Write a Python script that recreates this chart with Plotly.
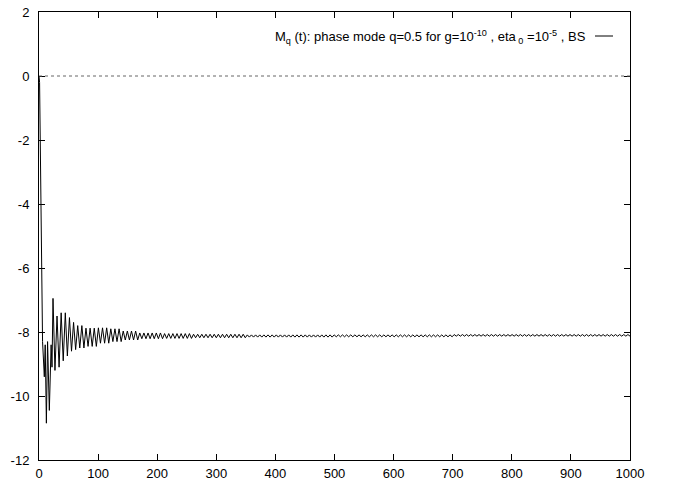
import numpy as np
import plotly.graph_objects as go

# ---- data ----
# early, irregular extrema (time, value)
early_t = [0, 1, 6, 9, 10.5, 12.5, 14.5, 17.5, 20.5, 22, 23.7, 27, 30.5, 34,
           37.5, 41, 44.5, 48, 51.5, 55, 58.5, 62]
early_v = [0.0, -0.2, -8.3, -9.4, -8.4, -10.85, -8.3, -10.45, -8.4, -9.1, -6.95,
           -9.2, -7.5, -9.1, -7.4, -8.9, -7.4, -8.75, -7.55, -8.6, -7.7, -8.55]

# later oscillation, sampled every half period (peak, trough pairs)
late_t0 = 65.5
late_step = 3.5
late_v = ([-7.80, -8.50] * 2 + [-7.88, -8.45] * 3 + [-7.87, -8.35] * 3 +
          [-7.90, -8.30] * 3 + [-7.97, -8.25] * 4 + [-8.03, -8.21] * 6 +
          [-8.05, -8.20] * 7 + [-8.07, -8.18] * 13 + [-8.09, -8.16] * 21 +
          [-8.09, -8.15] * 29 + [-8.08, -8.13] * 43)

x_ticks = [0, 100, 200, 300, 400, 500, 600, 700, 800, 900, 1000]
y_ticks = [-12, -10, -8, -6, -4, -2, 0, 2]
y_tick_labels = ["-12", "-10", "-8", "-6", "-4", "-2", "0", "2"]

legend_text = ("M<sub>q</sub> (t): phase mode q=0.5 for g=10<sup>-10</sup> , "
               "eta<sub> 0</sub> =10<sup>-5</sup> , BS")

late_t = late_t0 + late_step * np.arange(len(late_v))
t = list(early_t) + list(late_t)
v = list(early_v) + list(late_v)

fig = go.Figure()
fig.add_trace(go.Scatter(x=t, y=v, mode="lines",
                         line=dict(color="black", width=1), showlegend=False))

font = dict(family="Liberation Sans, Arial, sans-serif", size=13, color="black")
axis_common = dict(showgrid=False, zeroline=False, showline=True, linecolor="black",
                   linewidth=1, mirror="allticks", ticks="inside", ticklen=6,
                   tickcolor="black", tickfont=font, automargin=False)

fig.update_layout(
    width=673, height=483,
    margin=dict(l=39, r=43, t=12, b=23, pad=0),
    plot_bgcolor="white", paper_bgcolor="white",
    xaxis=dict(range=[0, 1000], tickvals=x_ticks, ticklabelstandoff=1, **axis_common),
    yaxis=dict(range=[-12, 2], tickvals=y_ticks, ticktext=y_tick_labels,
               ticklabelstandoff=6, **axis_common),
    shapes=[
        dict(type="line", xref="paper", yref="y", x0=0, x1=1, y0=0, y1=0,
             line=dict(color="#666666", width=1, dash="dot")),
        dict(type="line", xref="paper", yref="paper", x0=(595 - 39) / 591, x1=(613 - 39) / 591,
             y0=(460 - 36) / 448, y1=(460 - 36) / 448, line=dict(color="black", width=1)),
    ],
    annotations=[dict(text=legend_text, xref="paper", yref="paper",
                      x=(588 - 39) / 591, y=(460 - 37) / 448, xanchor="right", yanchor="middle",
                      showarrow=False, font=font)],
)

fig.write_html("out.html")
